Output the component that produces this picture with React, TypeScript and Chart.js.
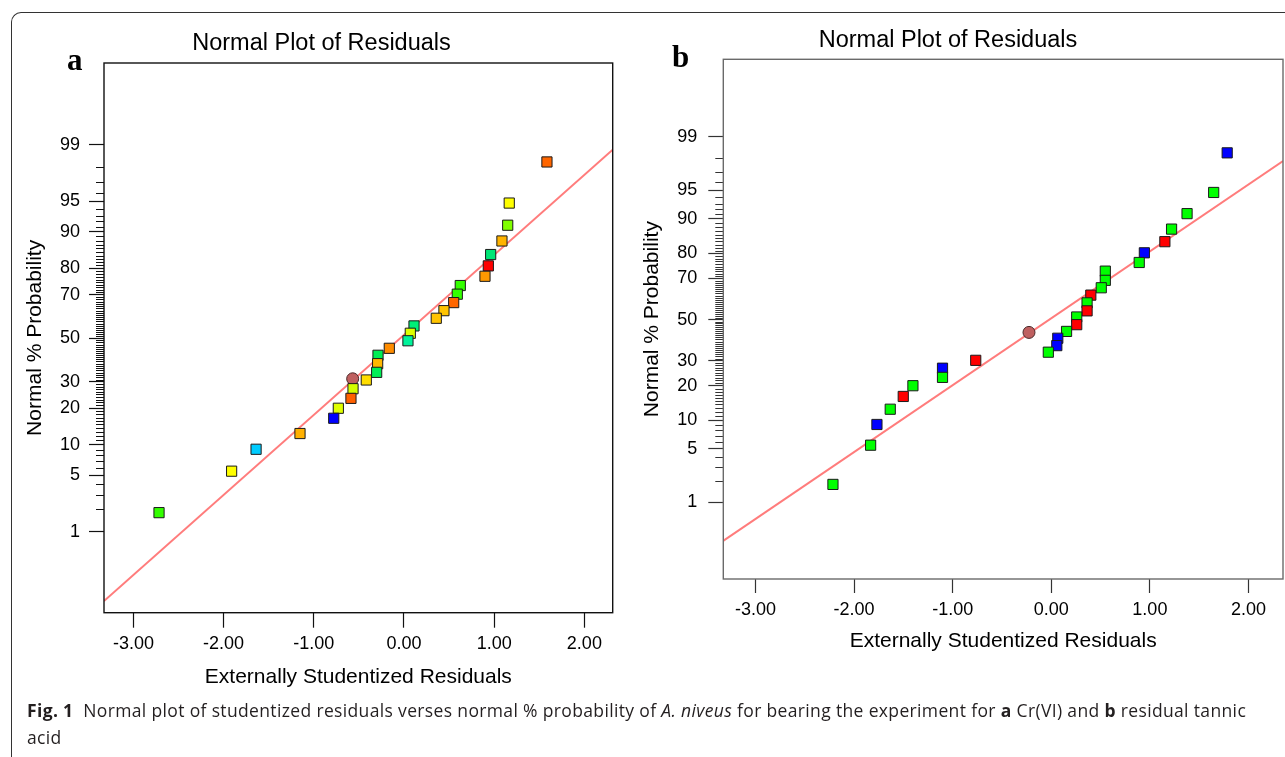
import React, { useEffect, useRef } from 'react';
import { Chart, registerables } from 'chart.js';

Chart.register(...registerables);

// ---------- axis ticks ----------
const X_TICKS = [-3, -2, -1, 0, 1, 2];
const Y_MAJOR = [1, 5, 10, 20, 30, 50, 70, 80, 90, 95, 99];
const Y_ALL: number[] = [];
for (let p = 1; p <= 99; p++) Y_ALL.push(p);

// ---------- panel a : Cr(VI) ----------
const A_RESID = [1.585, 1.167, 1.15, 1.086, 0.961, 0.935, 0.898, 0.624, 0.591, 0.551, 0.443, 0.358, 0.111, 0.07,
  0.044, -0.163, -0.288, -0.292, -0.303, -0.418, -0.565, -0.588, -0.728, -0.779, -1.153, -1.64, -1.911, -2.716];
const A_PROB = [98.3, 94.8, 91.3, 87.9, 84.3, 80.8, 77.2, 73.7, 70.2, 66.6, 63.0, 59.5, 55.9, 52.4,
  48.8, 45.2, 41.9, 38.0, 34.1, 30.8, 27.2, 23.5, 20.0, 16.8, 12.6, 9.1, 5.5, 1.8];
const A_COLORS = ['#FF6600', '#FFFF00', '#80FF00', '#FFB300', '#00E676', '#FF0000', '#FF9900', '#33FF00', '#33FF00',
  '#FF6600', '#FFC400', '#FFC400', '#00EE77', '#DDFF00', '#00F39A', '#FF8C00', '#00EE55', '#FFB800', '#00EE55',
  '#FFDD00', '#D4FF00', '#FF6000', '#E0FF00', '#0000FF', '#FFB000', '#00CCFF', '#FFFF00', '#33FF00'];
const A_CIRCLE_RESID = [-0.569];
const A_CIRCLE_PROB = [31.3];
const A_LINE_RESID = [-3.326, 2.314];
const A_LINE_PROB = [0.079, 98.83];

// ---------- panel b : residual tannic acid ----------
const B_RESID = [1.784, 1.647, 1.377, 1.22, 1.152, 0.944, 0.892, 0.548, 0.548, 0.507, 0.401, 0.363, 0.363, 0.258,
  0.258, 0.155, 0.066, 0.056, -0.03, -0.766, -1.103, -1.103, -1.403, -1.501, -1.633, -1.768, -1.832, -2.214];
const B_PROB = [98.3, 94.7, 91.1, 87.5, 83.9, 80.2, 76.6, 73.1, 69.1, 65.7, 62.2, 58.4, 54.4, 51.3,
  47.4, 44.0, 40.6, 37.0, 33.9, 30.2, 26.8, 23.1, 20.0, 16.4, 12.7, 9.1, 5.5, 1.8];
const G = '#00FF00', R = '#FF0000', B = '#0000FF';
const B_COLORS = [B, G, G, G, R, B, G, G, G, G, R, G, R, G, R, G, B, B, G, R, B, G, G, R, G, B, G, G];
const B_CIRCLE_RESID = [-0.226];
const B_CIRCLE_PROB = [43.5];
const B_LINE_RESID = [-3.327, 2.35];
const B_LINE_PROB = [0.244, 97.81];

// inverse standard normal CDF (probability scale)
function probit(p: number): number {
  const a = [-39.69683028665376, 220.9460984245205, -275.9285104469687, 138.357751867269, -30.66479806614716, 2.506628277459239];
  const b = [-54.47609879822406, 161.5858368580409, -155.6989798598866, 66.80131188771972, -13.28068155288572];
  const c = [-0.007784894002430293, -0.3223964580411365, -2.400758277161838, -2.549732539343734, 4.374664141464968, 2.938163982698783];
  const d = [0.007784695709041462, 0.3224671290700398, 2.445134137142996, 3.754408661907416];
  const pl = 0.02425;
  if (p < pl) {
    const q = Math.sqrt(-2 * Math.log(p));
    return (((((c[0] * q + c[1]) * q + c[2]) * q + c[3]) * q + c[4]) * q + c[5]) / ((((d[0] * q + d[1]) * q + d[2]) * q + d[3]) * q + 1);
  }
  if (p <= 1 - pl) {
    const q = p - 0.5;
    const r = q * q;
    return (((((a[0] * r + a[1]) * r + a[2]) * r + a[3]) * r + a[4]) * r + a[5]) * q / (((((b[0] * r + b[1]) * r + b[2]) * r + b[3]) * r + b[4]) * r + 1);
  }
  const q = Math.sqrt(-2 * Math.log(1 - p));
  return -(((((c[0] * q + c[1]) * q + c[2]) * q + c[3]) * q + c[4]) * q + c[5]) / ((((d[0] * q + d[1]) * q + d[2]) * q + d[3]) * q + 1);
}

const pts = (xs: number[], ps: number[]) => xs.map((x, i) => ({ x, y: probit(ps[i] / 100) }));

const FONT = "'Liberation Sans', Arial, Helvetica, sans-serif";

const framePlugin = {
  id: 'frame',
  afterDraw(chart: any, _args: any, opts: any) {
    const { ctx, chartArea } = chart;
    const ys = chart.scales.y;
    ctx.save();
    // minor ticks on probability axis
    ctx.strokeStyle = opts.tickColor;
    ctx.lineWidth = 1;
    for (const t of ys.ticks) {
      if (Y_MAJOR.includes(t.pct)) continue;
      const py = Math.round(ys.getPixelForValue(t.value)) + 0.5;
      ctx.beginPath();
      ctx.moveTo(chartArea.left - opts.minorLen, py);
      ctx.lineTo(chartArea.left, py);
      ctx.stroke();
    }
    ctx.strokeStyle = opts.color;
    ctx.lineWidth = opts.width;
    ctx.strokeRect(chartArea.left, chartArea.top, chartArea.right - chartArea.left, chartArea.bottom - chartArea.top);
    ctx.restore();
  },
};

const noPad = (s: any) => { s.paddingLeft = 0; s.paddingRight = 0; s.paddingTop = 0; s.paddingBottom = 0; };

interface Geo {
  xMax: number; yAxisW: number; rightW: number; xAxisH: number;
  titleTop: number; titleBottom: number; yTitlePad: number; xTitlePad: number;
  xTickLen: number; xTickPad: number; yTickPad: number;
  frameColor: string; tickColor: string;
}

function makeConfig(resid: number[], prob: number[], colors: string[], cr: number[], cp: number[], lr: number[], lp: number[], g: Geo): any {
  return {
    type: 'scatter',
    data: {
      datasets: [
        {
          data: pts(resid, prob),
          pointStyle: 'rect',
          pointRadius: 7.2,
          backgroundColor: colors,
          borderColor: '#1a1a1a',
          borderWidth: 1,
        },
        {
          data: pts(cr, cp),
          pointStyle: 'circle',
          pointRadius: 6,
          backgroundColor: '#BF6060',
          borderColor: '#4a2a2a',
          borderWidth: 1,
        },
        {
          type: 'line',
          data: pts(lr, lp),
          showLine: true,
          pointRadius: 0,
          borderColor: '#FF7C7C',
          borderWidth: 2,
          fill: false,
        },
      ],
    },
    options: {
      responsive: false,
      maintainAspectRatio: false,
      animation: false,
      events: [],
      layout: { padding: 0, autoPadding: false },
      plugins: {
        legend: { display: false },
        tooltip: { enabled: false },
        title: {
          display: true,
          text: 'Normal Plot of Residuals',
          color: '#000',
          font: { family: FONT, size: 23.5, weight: 'normal' },
          padding: { top: g.titleTop, bottom: g.titleBottom },
        },
        frame: { color: g.frameColor, width: 1.4, minorLen: 8, tickColor: g.tickColor },
      },
      scales: {
        x: {
          type: 'linear',
          min: -3.326,
          max: g.xMax,
          afterBuildTicks: (s: any) => { s.ticks = X_TICKS.map((v) => ({ value: v })); },
          afterFit: (s: any) => { s.height = g.xAxisH; noPad(s); },
          border: { display: false },
          grid: { drawOnChartArea: false, drawTicks: true, tickLength: g.xTickLen, tickColor: g.tickColor, tickWidth: 1.2 },
          ticks: {
            autoSkip: false, maxRotation: 0, padding: g.xTickPad, color: '#000',
            font: { family: FONT, size: 18 },
            callback: (v: number) => Number(v).toFixed(2),
          },
          title: {
            display: true, text: 'Externally Studentized Residuals', color: '#000',
            font: { family: FONT, size: 21 }, padding: { top: 0, bottom: g.xTitlePad },
          },
        },
        y: {
          type: 'linear',
          position: 'left',
          min: -3.3,
          max: 3.31,
          afterBuildTicks: (s: any) => { s.ticks = Y_ALL.map((p) => ({ value: probit(p / 100), pct: p })); },
          afterFit: (s: any) => { s.width = g.yAxisW; noPad(s); },
          border: { display: false },
          grid: {
            drawOnChartArea: false, drawTicks: true, tickLength: 15, tickWidth: 1.2,
            tickColor: (c: any) => (c.tick && Y_MAJOR.includes(c.tick.pct) ? g.tickColor : 'rgba(0,0,0,0)'),
          },
          ticks: {
            autoSkip: false, padding: g.yTickPad, color: '#000',
            font: { family: FONT, size: 18 },
            callback: (_v: number, i: number, ticks: any[]) => (Y_MAJOR.includes(ticks[i].pct) ? String(ticks[i].pct) : ''),
          },
          title: {
            display: true, text: 'Normal % Probability', color: '#000',
            font: { family: FONT, size: 21 }, padding: { top: g.yTitlePad, bottom: 0 },
          },
        },
        yR: {
          type: 'linear',
          position: 'right',
          display: true,
          afterFit: (s: any) => { s.width = g.rightW; noPad(s); },
          border: { display: false },
          grid: { display: false, drawTicks: false },
          ticks: { display: false },
        },
      },
    },
    plugins: [framePlugin],
  };
}

const GEO_A: Geo = {
  xMax: 2.314, yAxisW: 104, rightW: 30.3, xAxisH: 87.3,
  titleTop: 29.4, titleBottom: 5.4, yTitlePad: 23, xTitlePad: 10.4,
  xTickLen: 15, xTickPad: 5.2, yTickPad: 9,
  frameColor: '#111', tickColor: '#111',
};
const GEO_B: Geo = {
  xMax: 2.35, yAxisW: 111.3, rightW: 1, xAxisH: 86,
  titleTop: 26.4, titleBottom: 4.7, yTitlePad: 27.9, xTitlePad: 10.9,
  xTickLen: 14, xTickPad: 6.2, yTickPad: 11,
  frameColor: '#6a6a6a', tickColor: '#333',
};

function Plot(props: { left: number; width: number; height: number; cfg: () => any }) {
  const ref = useRef<HTMLCanvasElement | null>(null);
  useEffect(() => {
    if (!ref.current) return;
    const chart = new Chart(ref.current, props.cfg());
    return () => chart.destroy();
  }, []);
  return (
    <canvas
      ref={ref}
      width={props.width}
      height={props.height}
      style={{ position: 'absolute', left: props.left, top: 0, width: props.width, height: props.height }}
    />
  );
}

export default function App() {
  return (
    <div style={{ position: 'fixed', left: 0, top: 0, width: 1285, height: 757, overflow: 'hidden', background: '#fff' }}>
      <div style={{
        position: 'absolute', left: 11, top: 12, width: 1400, height: 900,
        borderTop: '1.3px solid #333', borderLeft: '1.3px solid #333', borderTopLeftRadius: 10,
      }} />
      <Plot left={0} width={643} height={700}
        cfg={() => makeConfig(A_RESID, A_PROB, A_COLORS, A_CIRCLE_RESID, A_CIRCLE_PROB, A_LINE_RESID, A_LINE_PROB, GEO_A)} />
      <Plot left={612} width={672} height={665}
        cfg={() => makeConfig(B_RESID, B_PROB, B_COLORS, B_CIRCLE_RESID, B_CIRCLE_PROB, B_LINE_RESID, B_LINE_PROB, GEO_B)} />
      <div style={{ position: 'absolute', left: 67, top: 44, fontFamily: "'Liberation Serif', 'Times New Roman', serif", fontWeight: 'bold', fontSize: 31, lineHeight: '31px', color: '#000' }}>a</div>
      <div style={{ position: 'absolute', left: 672, top: 41, fontFamily: "'Liberation Serif', 'Times New Roman', serif", fontWeight: 'bold', fontSize: 31, lineHeight: '31px', color: '#000' }}>b</div>
      <div style={{
        position: 'absolute', left: 27, top: 697, fontFamily: "'Open Sans', 'Noto Sans', sans-serif", fontSize: 17.5,
        lineHeight: '27px', color: '#231f20', whiteSpace: 'nowrap', letterSpacing: 0.35,
      }}>
        <b>Fig. 1</b>&nbsp;&nbsp;Normal plot of studentized residuals verses normal % probability of <i>A. niveus</i> for bearing the experiment for <b>a</b> Cr(VI) and <b>b</b> residual tannic
        <br />acid
      </div>
    </div>
  );
}
